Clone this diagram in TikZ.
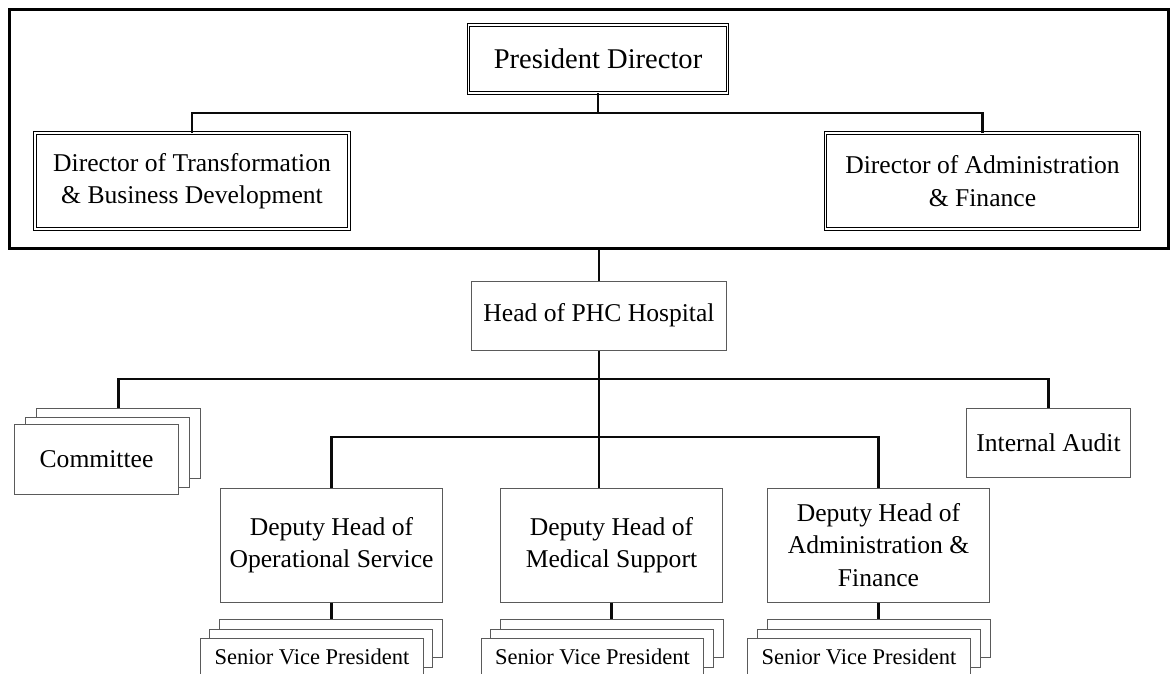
\documentclass[tikz,border=0pt]{standalone}
\usepackage{fontspec}
\setmainfont{Liberation Serif}
\usepackage{xcolor}
\usetikzlibrary{positioning}
\definecolor{boxgray}{RGB}{90,90,90}
\definecolor{linkblack}{RGB}{10,10,10}

\begin{document}
\begin{tikzpicture}[
    x=0.025cm, y=-0.025cm,
    orgbox/.style={draw=boxgray, line width=0.7pt, fill=white, align=center, inner sep=0pt, font=\fontsize{18.2}{23}\selectfont},
    topbox/.style={orgbox, draw=black, line width=0.55pt, double=white, double distance=1.3pt},
    stackbox/.style={orgbox, minimum width=5.55cm, minimum height=0.95cm, font=\fontsize{16}{19}\selectfont},
    cmtbox/.style={orgbox, minimum width=4.075cm, minimum height=1.75cm},
    depbox/.style={orgbox, minimum width=5.525cm, minimum height=2.85cm},
    link/.style={draw=linkblack, line width=1.6pt}
]

% Canvas
\useasboundingbox (0,0) rectangle (1173,673);
\clip (0,0) rectangle (1173,673);

% Board frame
\node[draw=black, line width=2.1pt, minimum width=28.95cm, minimum height=5.95cm] (FRAME) at (589,129) {};

% Board of directors
\node[topbox, minimum width=6.475cm, minimum height=1.7cm, font=\fontsize{20.3}{24}\selectfont] (PRES) at (598,59) {President Director};
\node[topbox, minimum width=7.85cm, minimum height=2.4cm] (DTBD) at (192,181) {Director of Transformation\\\& Business Development};
\node[topbox, minimum width=7.85cm, minimum height=2.4cm] (DAF) at (982.5,181) {Director of Administration\\\& Finance};

% Hospital head
\node[orgbox, minimum width=6.375cm, minimum height=1.725cm] (HEAD) at (599,315.5) {Head of PHC Hospital};

% Committee (stacked)
\node[cmtbox] (CMT3) at (118.5,443) {};
\node[cmtbox] (CMT2) at (107.5,452) {};
\node[cmtbox] (CMT1) at (96.5,459) {Committee};

% Internal audit
\node[orgbox, minimum width=4.075cm, minimum height=1.725cm] (AUDIT) at (1048.5,442.5) {Internal Audit};

% Deputy heads
\node[depbox] (DEP1) at (331.5,545) {Deputy Head of\\Operational Service};
\node[depbox] (DEP2) at (611.5,545) {Deputy Head of\\Medical Support};
\node[depbox] (DEP3) at (878.5,545) {Deputy Head of\\Administration \&\\Finance};

% Senior vice presidents (stacked)
\node[stackbox] (SVP1C) at (331,638) {};
\node[stackbox] (SVP1B) at (321,648) {};
\node[stackbox] (SVP1A) at (312,657) {Senior Vice President};

\node[stackbox] (SVP2C) at (612,638) {};
\node[stackbox] (SVP2B) at (602,648) {};
\node[stackbox] (SVP2A) at (592.5,657) {Senior Vice President};

\node[stackbox] (SVP3C) at (879,638) {};
\node[stackbox] (SVP3B) at (869,648) {};
\node[stackbox] (SVP3A) at (859,657) {Senior Vice President};

% Connectors
\coordinate (BUS1) at (598,113);
\coordinate (BUS2) at (599,379);
\coordinate (BUS3) at (599,437);

\draw[link] (PRES.south) -- (BUS1);
\draw[link] (DTBD.north) |- (BUS1) -| (DAF.north);

\draw[link] (HEAD.north |- FRAME.south) -- (HEAD.north);
\draw[link] (HEAD.south) -- (BUS2) -- (BUS3);
\draw[link] (CMT3.north) |- (BUS2) -| (AUDIT.north);
\draw[link] (DEP1.north) |- (BUS3) -| (DEP3.north);
\draw[link] (BUS3) -- (BUS3 |- DEP2.north);

\draw[link] (DEP1.south) -- (DEP1.south |- SVP1C.north);
\draw[link] (DEP2.south) -- (DEP2.south |- SVP2C.north);
\draw[link] (DEP3.south) -- (DEP3.south |- SVP3C.north);

\end{tikzpicture}
\end{document}
